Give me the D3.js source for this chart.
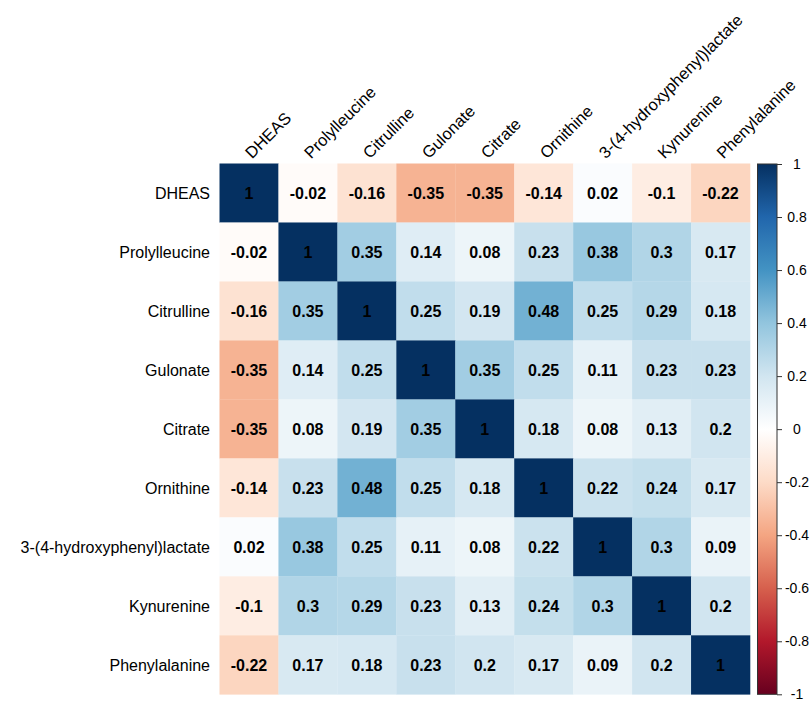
<!DOCTYPE html>
<html>
<head>
<meta charset="utf-8">
<script src="https://cdn.jsdelivr.net/npm/d3@7"></script>
<style>
  html, body { margin: 0; padding: 0; background: #fff; }
  svg { display: block; }
  text { font-family: "Liberation Sans", Arial, sans-serif; }
</style>
</head>
<body>
<svg id="chart" width="812" height="703"></svg>
<script>
const variables = ["DHEAS", "Prolylleucine", "Citrulline", "Gulonate", "Citrate", "Ornithine", "3-(4-hydroxyphenyl)lactate", "Kynurenine", "Phenylalanine"];

const rowDHEAS         = [1, -0.02, -0.16, -0.35, -0.35, -0.14, 0.02, -0.1, -0.22];
const rowProlylleucine = [-0.02, 1, 0.35, 0.14, 0.08, 0.23, 0.38, 0.3, 0.17];
const rowCitrulline    = [-0.16, 0.35, 1, 0.25, 0.19, 0.48, 0.25, 0.29, 0.18];
const rowGulonate      = [-0.35, 0.14, 0.25, 1, 0.35, 0.25, 0.11, 0.23, 0.23];
const rowCitrate       = [-0.35, 0.08, 0.19, 0.35, 1, 0.18, 0.08, 0.13, 0.2];
const rowOrnithine     = [-0.14, 0.23, 0.48, 0.25, 0.18, 1, 0.22, 0.24, 0.17];
const rowHPLactate     = [0.02, 0.38, 0.25, 0.11, 0.08, 0.22, 1, 0.3, 0.09];
const rowKynurenine    = [-0.1, 0.3, 0.29, 0.23, 0.13, 0.24, 0.3, 1, 0.2];
const rowPhenylalanine = [-0.22, 0.17, 0.18, 0.23, 0.2, 0.17, 0.09, 0.2, 1];

const matrix = [rowDHEAS, rowProlylleucine, rowCitrulline, rowGulonate, rowCitrate, rowOrnithine, rowHPLactate, rowKynurenine, rowPhenylalanine];

const legendTicks = [1, 0.8, 0.6, 0.4, 0.2, 0, -0.2, -0.4, -0.6, -0.8, -1];
const paletteColors = ["#67001F", "#B2182B", "#D6604D", "#F4A582", "#FDDBC7", "#FFFFFF", "#D1E5F0", "#92C5DE", "#4393C3", "#2166AC", "#053061"];

const svg = d3.select("#chart");

const gridLeft = 219.5, gridTop = 163.5, gridRight = 750, gridBottom = 694.3;

const x = d3.scaleBand().domain(variables).range([gridLeft, gridRight]).padding(0);
const y = d3.scaleBand().domain(variables).range([gridTop, gridBottom]).padding(0);

const color = d3.scaleLinear()
  .domain(d3.range(paletteColors.length).map(i => -1 + 2 * i / (paletteColors.length - 1)))
  .range(paletteColors)
  .interpolate(d3.interpolateRgb);

const cells = [];
matrix.forEach((row, i) => row.forEach((v, j) => cells.push({ r: variables[i], c: variables[j], v })));

svg.append("g").selectAll("rect")
  .data(cells).join("rect")
  .attr("x", d => x(d.c))
  .attr("y", d => y(d.r))
  .attr("width", x.bandwidth() + 0.3)
  .attr("height", y.bandwidth() + 0.3)
  .attr("fill", d => color(d.v));

svg.append("g").selectAll("text")
  .data(cells).join("text")
  .attr("x", d => x(d.c) + x.bandwidth() / 2)
  .attr("y", d => y(d.r) + y.bandwidth() / 2)
  .attr("dy", "0.36em")
  .attr("text-anchor", "middle")
  .attr("font-size", 16)
  .attr("font-weight", "bold")
  .attr("fill", "#000")
  .text(d => String(d.v));

// row labels
svg.append("g").selectAll("text")
  .data(variables).join("text")
  .attr("x", 210)
  .attr("y", d => y(d) + y.bandwidth() / 2)
  .attr("dy", "0.36em")
  .attr("text-anchor", "end")
  .attr("font-size", 16)
  .attr("fill", "#000")
  .text(d => d);

// column labels
svg.append("g").selectAll("text")
  .data(variables).join("text")
  .attr("transform", d => `translate(${x(d) + x.bandwidth() / 2 + 3},${gridTop - 4}) rotate(-45)`)
  .attr("text-anchor", "start")
  .attr("font-size", 16.5)
  .attr("fill", "#000")
  .text(d => d);

// color legend
const barX = 757.5, barW = 19.5;
const ly = d3.scaleLinear().domain([-1, 1]).range([gridBottom, gridTop + 0.5]);

const defs = svg.append("defs");
const grad = defs.append("linearGradient")
  .attr("id", "cbar").attr("x1", "0").attr("y1", "1").attr("x2", "0").attr("y2", "0");
paletteColors.forEach((c, i) => {
  grad.append("stop").attr("offset", i / (paletteColors.length - 1)).attr("stop-color", c);
});

svg.append("rect")
  .attr("x", barX).attr("y", ly(1))
  .attr("width", barW).attr("height", ly(-1) - ly(1))
  .attr("fill", "url(#cbar)")
  .attr("stroke", "#333").attr("stroke-width", 1);

const legendAxis = d3.axisRight(ly).tickValues(legendTicks).tickSize(5).tickFormat(d => String(d));
const lg = svg.append("g").attr("transform", `translate(${barX + barW},0)`).call(legendAxis);
lg.select(".domain").remove();
lg.selectAll(".tick line").attr("stroke", "#333");
lg.selectAll(".tick text")
  .attr("x", 20)
  .attr("text-anchor", "middle")
  .attr("font-size", 14)
  .attr("font-family", "\"Liberation Sans\", Arial, sans-serif")
  .attr("fill", "#000");
</script>
</body>
</html>
